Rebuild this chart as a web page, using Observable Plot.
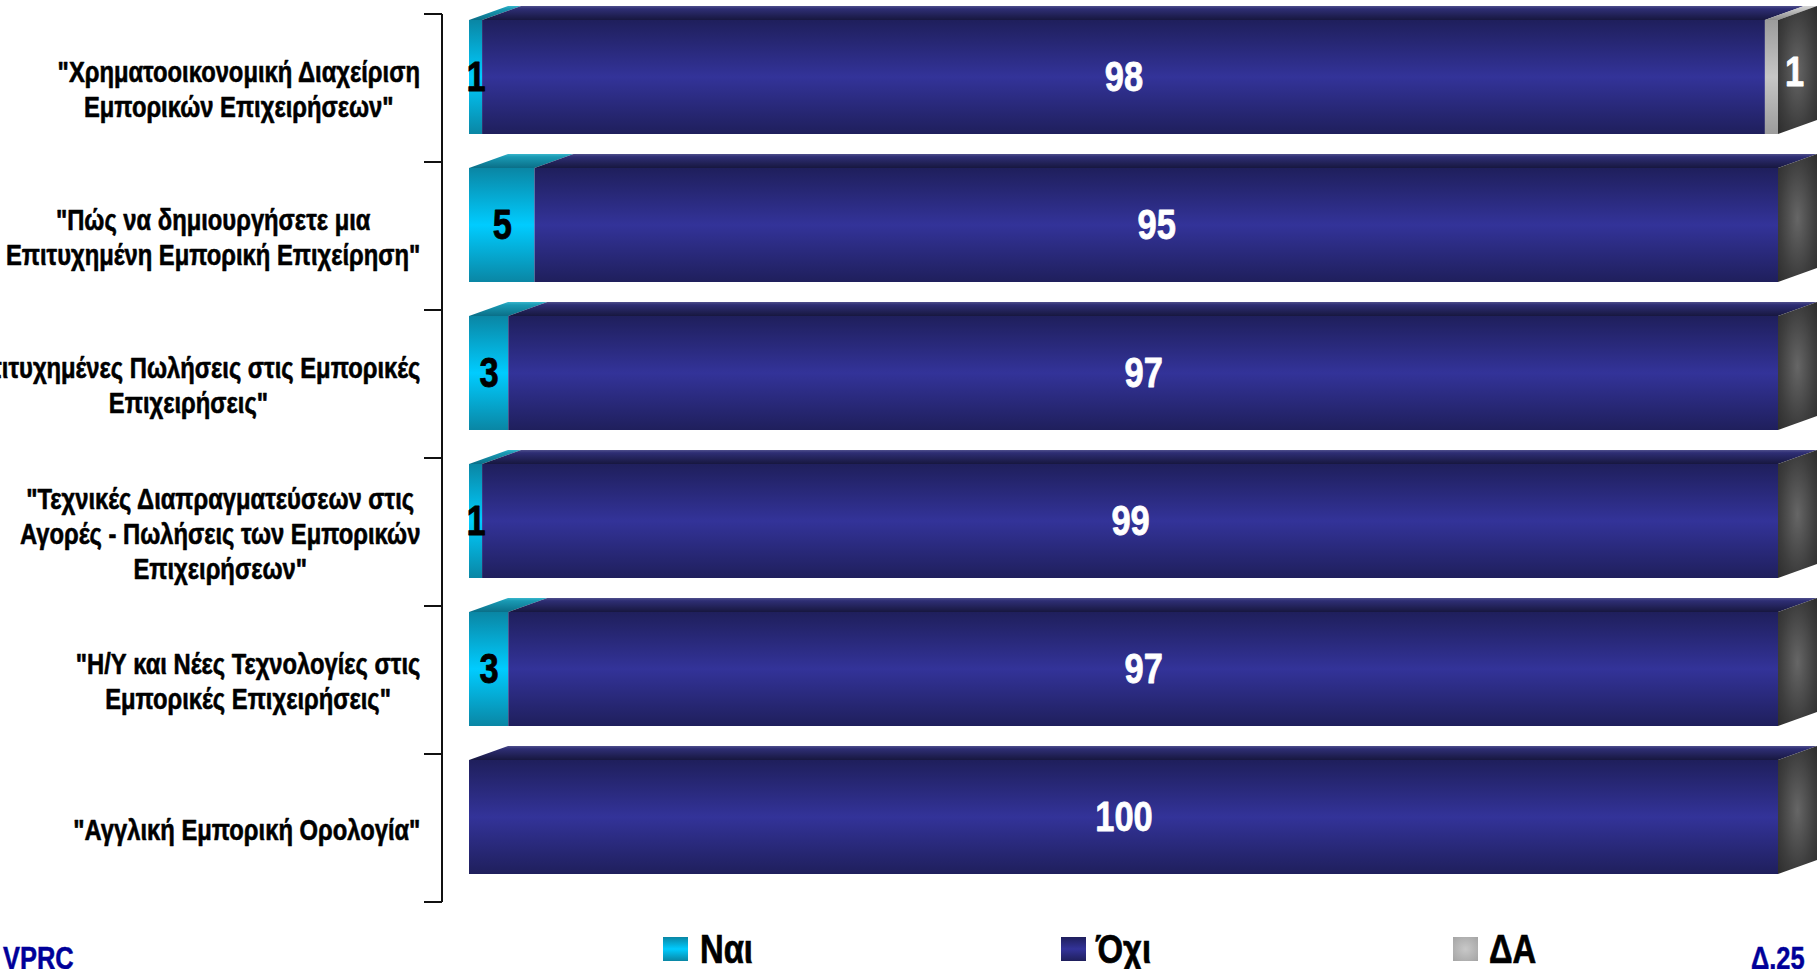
<!DOCTYPE html>
<html>
<head>
<meta charset="utf-8">
<script src="https://cdn.jsdelivr.net/npm/d3@7"></script>
<script src="https://cdn.jsdelivr.net/npm/@observablehq/plot@0.6"></script>
<style>
  html, body { margin: 0; padding: 0; background: #fff; overflow: hidden; }
  body { width: 1820px; height: 969px; position: relative;
         font-family: "Liberation Sans", Arial, sans-serif; font-weight: bold; }
  #chart svg { display: block; }
  .abs { position: absolute; white-space: nowrap; line-height: 1; transform: scaleX(0.82); transform-origin: 0 0; }
  .sw { position: absolute; width: 25px; height: 24px; }
  .leg { font-size: 40px; color: #000; -webkit-text-stroke: 0.7px #000; }
  .foot { font-size: 31px; color: #000099; -webkit-text-stroke: 0.5px #000099; }
</style>
</head>
<body>
<div id="chart"></div>
<div id="legend"></div>
<script>
// ---------- data ----------
const categories = [
  "\"Χρηματοοικονομική Διαχείριση\nΕμπορικών Επιχειρήσεων\"",
  "\"Πώς να δημιουργήσετε μια\nΕπιτυχημένη Εμπορική Επιχείρηση\"",
  "\"Επιτυχημένες Πωλήσεις στις Εμπορικές\nΕπιχειρήσεις\"",
  "\"Τεχνικές Διαπραγματεύσεων στις\nΑγορές - Πωλήσεις των Εμπορικών\nΕπιχειρήσεων\"",
  "\"Η/Υ και Νέες Τεχνολογίες στις\nΕμπορικές Επιχειρήσεις\"",
  "\"Αγγλική Εμπορική Ορολογία\""
];
const responses = ["Ναι", "Όχι", "ΔΑ"];
const nai = [1, 5, 3, 1, 3, 0];
const oxi = [98, 95, 97, 99, 97, 100];
const da  = [1, 0, 0, 0, 0, 0];
const footLeft = "VPRC";
const footRight = "Δ.25";

// ---------- build table ----------
const series = [nai, oxi, da];
const rows = categories.flatMap((c, i) => responses.map((r, j) => ({cat: c, resp: r, value: series[j][i]})));

// ---------- style ----------
const FONT = "'Liberation Sans', Arial, sans-serif";
const NARROW = 0.82; // Arial Narrow ≈ Arial compressed horizontally
const W = 1820, H = 910;
const mLeft = 469, mRight = 42, mTop = 14, mBottom = 8;
const insetTop = 6, insetBottom = 28, depthX = 39, depthY = 14;
const labelRight = 420, labelSize = 29;

// measure widest line of each category label (for right-aligned, centered blocks)
const ctx = document.createElement("canvas").getContext("2d");
ctx.font = `bold ${labelSize}px ${FONT}`;
const maxW = categories.map(c => NARROW * d3.max(c.split("\n"), l => ctx.measureText(l).width));

function stops(grad, list) {
  list.forEach(([o, c]) => grad.append("stop").attr("offset", o).attr("stop-color", c));
}

function faces(index, scales, values, dims) {
  const g = d3.create("svg:g");
  const defs = g.append("defs");
  const lin = (id) => defs.append("linearGradient").attr("id", id).attr("x1", 0).attr("y1", 0).attr("x2", 0).attr("y2", 1);
  stops(lin("front0"), [[0, "#0a86a4"], [0.5, "#00ccff"], [1, "#0a86a4"]]);
  stops(lin("front1"), [[0, "#1f1f5c"], [0.5, "#333399"], [1, "#1f1f5c"]]);
  stops(lin("front2"), [[0, "#9c9c9c"], [0.5, "#c6c6c6"], [1, "#9c9c9c"]]);
  stops(lin("top0"), [[0, "#38b6cc"], [0.2, "#1a9ab4"], [1, "#0a6f88"]]);
  stops(lin("top1"), [[0, "#4f4f8c"], [0.2, "#2e2e74"], [1, "#17173f"]]);
  stops(lin("top2"), [[0, "#d6d6d6"], [1, "#8c8c8c"]]);
  const rad = defs.append("radialGradient").attr("id", "side").attr("cx", 0.5).attr("cy", 0.5).attr("r", 0.75);
  stops(rad, [[0, "#666666"], [0.6, "#3e3e3e"], [1, "#2a2a2a"]]);

  const x = scales.x, y = scales.y;
  const bw = y.bandwidth();
  categories.forEach((c, i) => {
    const top = y(c) + insetTop, h = bw - insetTop - insetBottom;
    let acc = 0;
    series.forEach((s, j) => {
      const v = s[i];
      if (!v) return;
      const x1 = x(acc), x2 = x(acc + v);
      acc += v;
      g.append("polygon")
        .attr("points", [[x1, top], [x2, top], [x2 + depthX, top - depthY], [x1 + depthX, top - depthY]].join(" "))
        .attr("fill", `url(#top${j})`);
    });
    const xe = x(acc);
    g.append("polygon")
      .attr("points", [[xe, top], [xe + depthX, top - depthY], [xe + depthX, top + h - depthY], [xe, top + h]].join(" "))
      .attr("fill", "url(#side)");
  });

  // bracket axis at left of bars
  const ax = dims.marginLeft - 27;
  const bounds = categories.map(c => y(c)).concat([y(categories[categories.length - 1]) + bw]);
  g.append("line").attr("x1", ax).attr("x2", ax).attr("y1", bounds[0]).attr("y2", bounds[bounds.length - 1])
    .attr("stroke", "#111").attr("stroke-width", 2);
  bounds.forEach(b => g.append("line").attr("x1", ax - 18).attr("x2", ax).attr("y1", b).attr("y2", b)
    .attr("stroke", "#111").attr("stroke-width", 2));
  return g.node();
}

const numStyle = {fontSize: 42, fontWeight: "bold", fontFamily: FONT, dy: -11, lineAnchor: "middle", strokeWidth: 0.8};

const plot = Plot.plot({
  width: W, height: H,
  marginLeft: mLeft, marginRight: mRight, marginTop: mTop, marginBottom: mBottom,
  style: {background: "white", fontFamily: FONT, overflow: "hidden"},
  x: {domain: [0, 100], axis: null},
  y: {domain: categories, axis: null, padding: 0},
  color: {domain: responses, range: ["url(#front0)", "url(#front1)", "url(#front2)"]},
  marks: [
    faces,
    Plot.barX(rows, Plot.stackX({x: "value", y: "cat", fill: "resp", insetTop, insetBottom})),
    Plot.text(rows, Plot.filter(d => d.resp === "Ναι" && d.value > 0,
      Plot.stackX({x: "value", y: "cat", text: "value", fill: "black", stroke: "black", ...numStyle}))),
    Plot.text(rows, Plot.filter(d => d.resp === "Όχι" && d.value > 0,
      Plot.stackX({x: "value", y: "cat", text: "value", fill: "white", stroke: "white", ...numStyle}))),
    Plot.text(rows, Plot.filter(d => d.resp === "ΔΑ" && d.value > 0,
      Plot.stackX2({x: "value", y: "cat", text: "value", fill: "white", stroke: "white", ...numStyle, dx: 16, dy: -16}))),
    ...categories.map((c, i) => Plot.text([c], {
      y: d => d, text: d => d, frameAnchor: "left", textAnchor: "middle",
      dx: (labelRight - maxW[i] / 2) - mLeft,
      lineAnchor: "middle", lineHeight: 35 / labelSize,
      fontSize: labelSize, fontWeight: "bold", fontFamily: FONT,
      fill: "black", stroke: "black", strokeWidth: 0.6
    }))
  ]
});
document.getElementById("chart").appendChild(plot);

// compress all chart texts horizontally about their own anchor (Arial Narrow look)
plot.querySelectorAll("text").forEach(t => {
  let tr = t.getAttribute("transform");
  if (!tr) {
    const tx = +t.getAttribute("x") || 0, ty = +t.getAttribute("y") || 0;
    t.removeAttribute("x"); t.removeAttribute("y");
    tr = `translate(${tx},${ty})`;
  }
  t.setAttribute("transform", `${tr} scale(${NARROW},1)`);
});

// ---------- legend & footer ----------
const legendGrad = [
  "linear-gradient(#0a86a4, #00ccff 50%, #0a86a4)",
  "linear-gradient(#1f1f5c, #333399 50%, #1f1f5c)",
  "radial-gradient(#c8c8c8, #a4a4a4)"
];
const swLeft = [663, 1061, 1453];
const txLeft = [700, 1096, 1489];
const legend = d3.select("#legend");
responses.forEach((r, i) => {
  legend.append("div").attr("class", "sw").style("left", swLeft[i] + "px").style("top", "937px").style("background", legendGrad[i]);
  legend.append("div").attr("class", "abs leg").style("left", txLeft[i] + "px").style("top", (963 - 0.8465 * 40) + "px").text(r);
});
legend.append("div").attr("class", "abs foot").style("left", "3px").style("top", (969 - 0.8465 * 31) + "px").text(footLeft);
legend.append("div").attr("class", "abs foot").style("left", "1751px").style("top", (969 - 0.8465 * 31) + "px").text(footRight);
</script>
</body>
</html>
